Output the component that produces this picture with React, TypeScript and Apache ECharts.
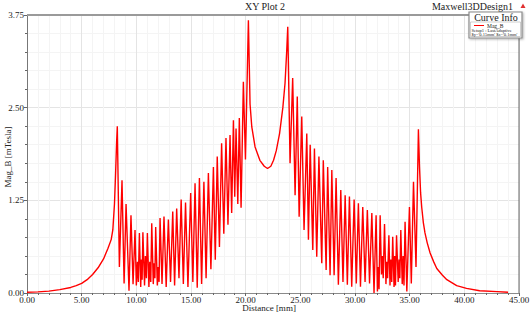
import React, { useEffect, useRef } from "react";
import * as echarts from "echarts";

const titleText = "XY Plot 2";
const designText = "Maxwell3DDesign1";
const xAxisName = "Distance [mm]";
const yAxisName = "Mag_B [mTesla]";
const legendTitle = "Curve Info";
const seriesName = "Mag_B";
const legendLines = ["Setup1 : LastAdaptive", "$y='0.15mm' $z='0.1mm'"];

// Left tail and first spike
const tailLeftX = [0.0, 1.0, 2.0, 3.0, 4.0, 4.5, 5.0, 5.5, 6.0, 6.5, 7.0, 7.4, 7.7, 7.85, 8.0, 8.1, 8.2, 8.26];
const tailLeftY = [0.01, 0.015, 0.025, 0.045, 0.075, 0.1, 0.13, 0.18, 0.25, 0.34, 0.46, 0.6, 0.72, 0.85, 1.2, 1.6, 2.05, 2.25];

// Left oscillating band
const oscLeftX = [
  8.45, 8.69, 8.88, 9.06, 9.33, 9.51, 9.7, 9.88, 10.0, 10.1, 10.18, 10.28, 10.4, 10.47, 10.53, 10.6,
  10.75, 10.83, 10.92, 11.01, 11.15, 11.23, 11.32, 11.41, 11.55, 11.62, 11.7, 11.77, 11.92, 12.0, 12.08,
  12.17, 12.35, 12.53, 12.73, 12.93, 13.13, 13.33, 13.5, 13.69, 13.9, 14.1, 14.3, 14.5, 14.72, 14.97,
  15.17, 15.37, 15.57, 15.77, 15.97, 16.18, 16.38, 16.59, 16.82, 17.05, 17.22, 17.4, 17.6, 17.8, 18.0,
  18.2, 18.38, 18.57, 18.72, 18.88, 19.0, 19.12, 19.28, 19.42, 19.58, 19.79, 19.98, 20.25,
];
const oscLeftY = [
  0.35, 1.52, 0.13, 1.2, 0.03, 1.05, 0.12, 0.85, 0.1, 0.42, 0.15, 0.81, 0.08, 0.45, 0.18, 0.82,
  0.1, 0.5, 0.2, 0.81, 0.08, 0.42, 0.15, 0.94, 0.12, 0.4, 0.2, 0.89, 0.1, 0.35, 0.15,
  1.01, 0.12, 1.03, 0.08, 0.99, 0.15, 1.1, 0.1, 1.14, 0.2, 1.26, 0.12, 1.22, 0.08, 1.35,
  0.15, 1.48, 0.07, 1.55, 0.12, 1.5, 0.2, 1.62, 0.32, 1.7, 0.45, 1.84, 0.62, 2.02, 0.8,
  2.09, 0.92, 2.13, 1.08, 2.33, 1.3, 2.22, 1.2, 2.36, 1.15, 2.85, 1.8, 3.68,
];

// Central valley between the two main spikes
const valleyX = [20.4, 20.56, 20.86, 21.3, 21.7, 22.0, 22.3, 22.55, 22.8, 23.1, 23.4, 23.6, 23.75, 23.85];
const valleyY = [2.55, 2.24, 1.97, 1.79, 1.71, 1.68, 1.71, 1.79, 1.92, 2.15, 2.5, 2.83, 3.25, 3.59];

// Right oscillating band
const oscRightX = [
  24.06, 24.3, 24.52, 24.72, 24.89, 25.13, 25.34, 25.59, 25.74, 25.9, 26.14, 26.29, 26.5, 26.7, 26.96,
  27.1, 27.36, 27.5, 27.72, 27.88, 28.09, 28.27, 28.48, 28.7, 28.9, 29.1, 29.3, 29.49, 29.7, 29.92,
  30.12, 30.31, 30.5, 30.71, 30.92, 31.13, 31.33, 31.54, 31.74, 31.93, 32.05, 32.12, 32.2, 32.3,
  32.42, 32.5, 32.58, 32.7, 32.83, 32.9, 32.98, 33.1, 33.2, 33.28, 33.36, 33.45, 33.57, 33.63, 33.7,
  33.8, 33.95, 34.03, 34.1, 34.19, 34.32, 34.4, 34.48, 34.58, 34.74, 34.98, 35.15, 35.35, 35.58, 35.8,
];
const oscRightY = [
  1.75, 2.9, 1.32, 2.65, 1.03, 2.38, 0.85, 2.15, 0.72, 2.0, 0.58, 1.95, 0.49, 1.84, 0.4,
  1.79, 0.31, 1.7, 0.24, 1.66, 0.24, 1.55, 0.11, 1.39, 0.15, 1.32, 0.11, 1.3, 0.085, 1.26,
  0.13, 1.21, 0.085, 1.16, 0.15, 1.12, 0.13, 1.08, 0.0, 1.05, 0.02, 0.35, 0.05, 1.05,
  0.25, 0.5, 0.2, 0.93, 0.12, 0.42, 0.2, 0.78, 0.1, 0.45, 0.15, 0.76, 0.08, 0.5, 0.1,
  0.78, 0.15, 0.45, 0.2, 0.85, 0.12, 0.5, 0.1, 0.96, 0.02, 1.16, 0.13, 1.5, 0.35, 2.21,
];

// Right tail
const tailRightX = [35.9, 36.0, 36.1, 36.25, 36.4, 36.6, 36.87, 37.2, 37.48, 38.0, 38.4, 39.3, 40.2, 41.4, 43.0, 44.0];
const tailRightY = [1.7, 1.35, 1.16, 0.95, 0.81, 0.68, 0.54, 0.42, 0.33, 0.24, 0.18, 0.1, 0.063, 0.03, 0.018, 0.01];

const distance = [...tailLeftX, ...oscLeftX, ...valleyX, ...oscRightX, ...tailRightX];
const magB = [...tailLeftY, ...oscLeftY, ...valleyY, ...oscRightY, ...tailRightY];

const FONT = "'Liberation Serif', 'DejaVu Serif', serif";

export default function App() {
  const ref = useRef<HTMLDivElement>(null);
  useEffect(() => {
    if (!ref.current) return;
    const chart = echarts.init(ref.current, undefined, { renderer: "svg" });
    const data = distance.map((d, i) => [d, magB[i]]);
    chart.setOption({
      animation: false,
      backgroundColor: "#ffffff",
      grid: { left: 27, right: 11, top: 15, bottom: 19, show: false, containLabel: false, outerBoundsMode: "none" },
      xAxis: {
        type: "value",
        min: 0,
        max: 45,
        interval: 5,
        axisLine: { show: true, lineStyle: { color: "#8a8a8a", width: 1 } },
        axisTick: { show: true, length: 3, lineStyle: { color: "#666" } },
        minorTick: { show: true, splitNumber: 5, length: 2, lineStyle: { color: "#666" } },
        axisLabel: {
          fontFamily: FONT,
          fontSize: 9,
          color: "#222",
          margin: 2,
          lineHeight: 9,
          formatter: (v: number) => v.toFixed(2),
        },
        splitLine: { show: true, lineStyle: { color: "#e4e4e4", width: 1 } },
        minorSplitLine: { show: true, lineStyle: { color: "#f4f4f4", width: 1 } },
      },
      yAxis: {
        type: "value",
        min: 0,
        max: 3.75,
        interval: 1.25,
        axisLine: { show: true, lineStyle: { color: "#777", width: 1 } },
        axisTick: { show: true, length: 3, lineStyle: { color: "#666" } },
        minorTick: { show: true, splitNumber: 5, length: 2, lineStyle: { color: "#666" } },
        axisLabel: {
          fontFamily: FONT,
          fontSize: 9,
          color: "#222",
          margin: 3,
          formatter: (v: number) => v.toFixed(2),
        },
        splitLine: { show: true, lineStyle: { color: "#e4e4e4", width: 1 } },
        minorSplitLine: { show: true, lineStyle: { color: "#f4f4f4", width: 1 } },
      },
      series: [
        {
          name: seriesName,
          type: "line",
          data,
          showSymbol: false,
          symbol: "none",
          smooth: false,
          lineStyle: { color: "#ff0000", width: 1.4 },
          z: 3,
        },
      ],
      graphic: [
        { type: "line", z: 5, shape: { x1: 27, y1: 15, x2: 469, y2: 15 }, style: { stroke: "#9a9a9a", lineWidth: 2 } },
        { type: "line", z: 5, shape: { x1: 519, y1: 38, x2: 519, y2: 293 }, style: { stroke: "#666", lineWidth: 1 } },
        {
          type: "text",
          z: 5,
          x: 269,
          y: 303,
          style: { text: xAxisName, font: `9px ${FONT}`, fill: "#222", align: "center", verticalAlign: "top" },
        },
        {
          type: "text",
          z: 5,
          x: 8,
          y: 157,
          rotation: Math.PI / 2,
          style: { text: yAxisName, font: `9px ${FONT}`, fill: "#222", align: "center", verticalAlign: "middle" },
        },
        {
          type: "text",
          z: 5,
          x: 265,
          y: 1,
          style: { text: titleText, font: `10px ${FONT}`, fill: "#222", align: "center", verticalAlign: "top" },
        },
        {
          type: "text",
          z: 5,
          x: 513,
          y: 1,
          style: { text: designText, font: `10px ${FONT}`, fill: "#222", align: "right", verticalAlign: "top" },
        },
        {
          type: "polygon",
          z: 5,
          shape: { points: [[520.5, 8], [525.5, 8], [523, 3.5]] },
          style: { fill: "#e03030" },
        },
        {
          type: "rect",
          z: 20,
          shape: { x: 469, y: 12, width: 53, height: 26 },
          style: { fill: "#ffffff", stroke: "#8a8a8a", lineWidth: 1.2, shadowBlur: 2, shadowColor: "rgba(0,0,0,0.3)", shadowOffsetX: 1, shadowOffsetY: 1 },
        },
        {
          type: "rect",
          z: 21,
          shape: { x: 470.5, y: 22, width: 50, height: 14.5 },
          style: { fill: "#ffffff", stroke: "#b0b0b0", lineWidth: 0.6 },
        },
        {
          type: "text",
          z: 22,
          x: 496,
          y: 12.5,
          style: { text: legendTitle, font: `10px ${FONT}`, fill: "#222", align: "center", verticalAlign: "top" },
        },
        { type: "line", z: 22, shape: { x1: 474, y1: 25.5, x2: 484, y2: 25.5 }, style: { stroke: "#ff0000", lineWidth: 1 } },
        {
          type: "text",
          z: 22,
          x: 487,
          y: 22.5,
          style: { text: seriesName, font: `5.5px ${FONT}`, fill: "#222", verticalAlign: "top" },
        },
        {
          type: "text",
          z: 22,
          x: 471.5,
          y: 27.5,
          style: { text: legendLines[0], font: `4.5px ${FONT}`, fill: "#222", verticalAlign: "top" },
        },
        {
          type: "text",
          z: 22,
          x: 471.5,
          y: 31.5,
          style: { text: legendLines[1], font: `4.5px ${FONT}`, fill: "#222", verticalAlign: "top" },
        },
      ],
    });
    return () => chart.dispose();
  }, []);
  return <div ref={ref} style={{ width: 530, height: 312, position: "absolute", left: 0, top: 0 }} />;
}
